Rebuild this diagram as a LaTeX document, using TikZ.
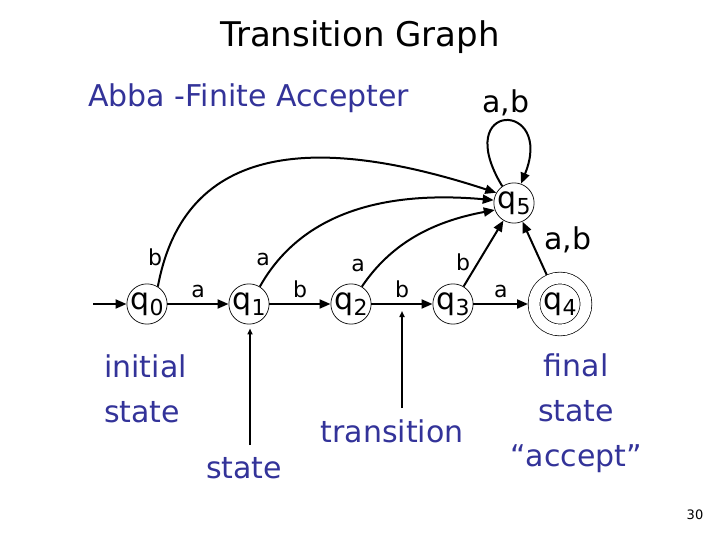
\documentclass[tikz,border=0pt]{standalone}
\usepackage{fontspec}
\setmainfont{DejaVu Sans}
\usetikzlibrary{arrows.meta}
\definecolor{slideblue}{RGB}{51,51,153}
\newcommand{\qsub}[1]{q\raisebox{-0.35ex}{\fontsize{22}{22}\selectfont #1}}

\begin{document}
\begin{tikzpicture}[x=1pt,y=1pt]
\tikzstyle{every node}+=[inner sep=0pt]
\tikzstyle{qnode}=[circle,draw,line width=0.7pt,minimum size=40pt,font=\fontsize{30}{30}\selectfont]
\tikzstyle{qfinal}=[qnode,double,double distance=11pt,minimum size=52pt,outer sep=6pt]
\tikzstyle{move}=[line width=2pt,-{Triangle[length=11pt,width=9pt]}]
\tikzstyle{pointer}=[line width=2pt,-{Triangle[length=6pt,width=5pt]}]
\tikzstyle{elab}=[font=\fontsize{22}{22}\selectfont]
\tikzstyle{biglab}=[font=\fontsize{30}{30}\selectfont]
\tikzstyle{bluetext}=[text=slideblue,font=\fontsize{30}{45}\selectfont]
\useasboundingbox (0,0) rectangle (720,-540);
\node [font=\fontsize{34}{34}\selectfont,anchor=base] (title) at (360,-47) {Transition Graph};
\node [bluetext,anchor=base west] (sub) at (88,-107) {Abba -Finite Accepter};
\node [qnode] (q0) at (147,-304) {\qsub{0}};
\node [qnode] (q1) at (249,-304) {\qsub{1}};
\node [qnode] (q2) at (351,-304) {\qsub{2}};
\node [qnode] (q3) at (453,-304) {\qsub{3}};
\node [qfinal] (q4) at (560,-304) {\qsub{4}};
\node [qnode] (q5) at (514,-203) {\qsub{5}};
\coordinate (start) at (93,-304);
\draw [move] (start) -- (q0);
\draw [move] (q0) -- node [elab,above=5pt] (l01) {a} (q1);
\draw [move] (q1) -- node [elab,above=5pt] (l12) {b} (q2);
\draw [move] (q2) -- node [elab,above=5pt] (l23) {b} coordinate [pos=0.5,yshift=-7pt] (tmid) (q3);
\draw [move] (q3) -- node [elab,above=5pt] (l34) {a} (q4);
\draw [move] (q0.58) .. controls (185,-140) and (320,-135) .. (q5.150);
\node [elab] (l05) at (155,-257) {b};
\draw [move] (q1.58) .. controls (300,-215) and (380,-190) .. (q5.172);
\node [elab] (l15) at (263,-259) {a};
\draw [move] (q2.58) .. controls (390,-245) and (430,-222) .. (q5.200);
\node [elab] (l25) at (358,-265) {a};
\draw [move] (q3) -- (q5);
\node [elab] (l35) at (463,-262) {b};
\draw [move] (q4) -- (q5);
\node [biglab] (l45) at (568,-240) {a,b};
\draw [move] (q5.125) .. controls (450,-100) and (555,-100) .. (q5.70);
\node [biglab] (l55) at (506,-103) {a,b};
\node [bluetext,anchor=north west,align=left] (initnote) at (104,-355) {initial\\state};
\coordinate (sfoot) at (250,-445);
\draw [pointer] (sfoot) -- ([xshift=1pt,yshift=-4pt]q1.south);
\node [bluetext,anchor=base] (statenote) at (244,-478) {state};
\coordinate (tfoot) at (402,-408);
\draw [pointer] (tfoot) -- (tmid);
\node [bluetext,anchor=base] (transnote) at (392,-442) {transition};
\node [bluetext,anchor=north,align=center] (finalnote) at (576,-354) {final\\state\\“accept”};
\node [font=\fontsize{13}{13}\selectfont] (page) at (695,-515) {30};
\end{tikzpicture}
\end{document}
